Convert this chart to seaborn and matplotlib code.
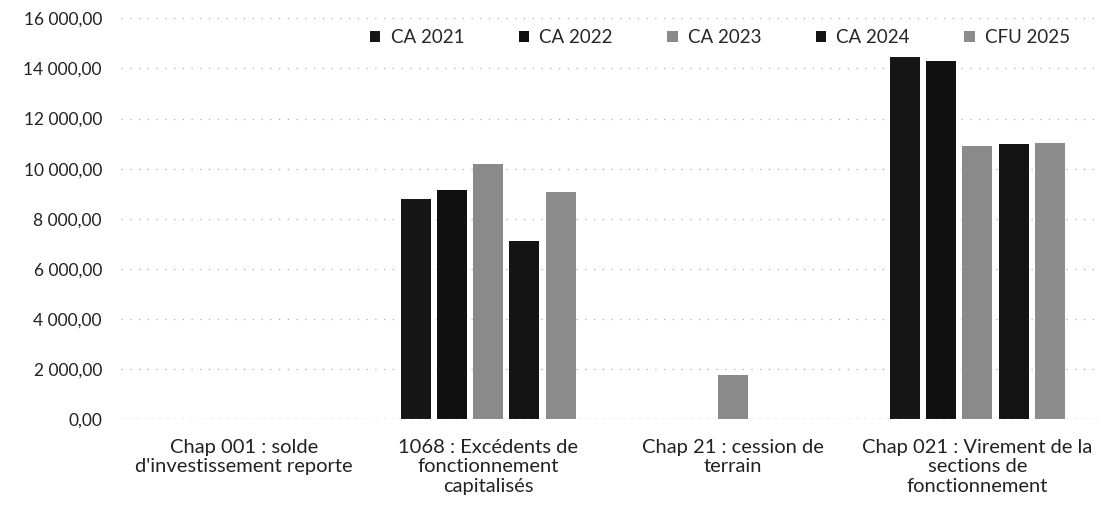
import numpy as np
import pandas as pd
import matplotlib
matplotlib.use("Agg")
import matplotlib.pyplot as plt
import seaborn as sns
from matplotlib.ticker import FuncFormatter, MultipleLocator

categories = [
    "Chap 001 : solde\nd'investissement reporte",
    "1068 : Excédents de\nfonctionnement\ncapitalisés",
    "Chap 21 : cession de\nterrain",
    "Chap 021 : Virement de la\nsections de\nfonctionnement",
]
series = ["CA 2021", "CA 2022", "CA 2023", "CA 2024", "CFU 2025"]
ca_2021 = [0, 8780, 0, 14450]
ca_2022 = [0, 9130, 0, 14290]
ca_2023 = [0, 10180, 1760, 10900]
ca_2024 = [0, 7130, 0, 10970]
cfu_2025 = [0, 9060, 0, 11020]
colors = ["#161616", "#111111", "#8a8a8a", "#141414", "#8c8c8c"]

values = [ca_2021, ca_2022, ca_2023, ca_2024, cfu_2025]
rows = []
for s, vals in zip(series, values):
    for c, v in zip(categories, vals):
        rows.append({"cat": c, "serie": s, "val": v})
df = pd.DataFrame(rows)

sns.set_theme(style="white")
plt.rcParams["font.family"] = ["Lato", "DejaVu Sans"]

fig = plt.figure(figsize=(11.03, 5.24), dpi=100)
ax = fig.add_axes([0.110, 0.200, 0.887, 0.765])

sns.barplot(data=df, x="cat", y="val", hue="serie", order=categories,
            hue_order=series, palette=colors, width=0.74, gap=0.17, saturation=1,
            ax=ax, edgecolor="none", linewidth=0)

ax.set_ylim(0, 16000)
ax.set_xlim(-0.5, 3.5)
ax.yaxis.set_major_locator(MultipleLocator(2000))

def fmt(v, pos):
    s = f"{v:,.2f}"
    return s.replace(",", " ").replace(".", ",")

ax.yaxis.set_major_formatter(FuncFormatter(fmt))
ax.grid(axis="y", color="#b0b0b0", linestyle=(0, (1, 6)), linewidth=0.9)
ax.set_axisbelow(True)
for sp in ax.spines.values():
    sp.set_visible(False)
ax.axhline(0, color="#999999", linestyle=(0, (2, 4)), linewidth=0.9)
ax.set_xlabel("")
ax.set_ylabel("")
ax.tick_params(axis="y", labelsize=12.5, colors="#222222", length=0, pad=14)
ax.tick_params(axis="x", labelsize=14.5, colors="#222222", length=0, pad=14)

leg = ax.legend(loc="upper center", bbox_to_anchor=(0.612, 1.015), ncol=5,
                frameon=False, fontsize=13.5, handlelength=0.55, handleheight=0.55,
                handletextpad=0.55, columnspacing=2.9)

fig.savefig("out.png", dpi=100)
